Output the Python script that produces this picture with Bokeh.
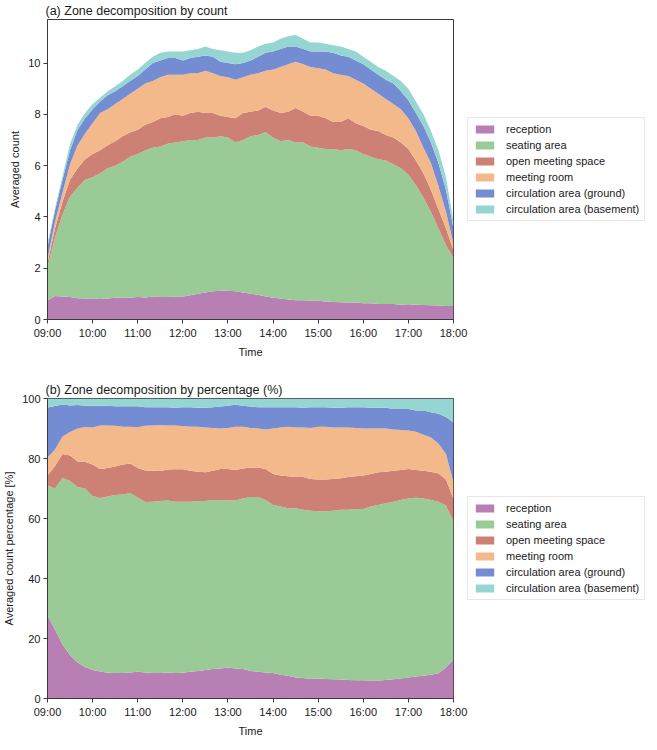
from bokeh.plotting import figure
from bokeh.models import ColumnDataSource, Legend, LegendItem, FixedTicker, Range1d
from bokeh.layouts import column
from bokeh.embed import file_html
from bokeh.resources import INLINE

# ---------------- data ----------------
TIMES = [f"{9 + m // 60:02d}:{m % 60:02d}" for m in range(0, 541, 10)]  # 09:00 .. 18:00

ZONES = ["reception", "seating area", "open meeting space", "meeting room",
         "circulation area (ground)", "circulation area (basement)"]
COLORS = ["#b87fb4", "#9acb96", "#cd8074", "#f4b98b", "#748cd2", "#96d6d2"]

TICK_HOURS = [9, 10, 11, 12, 13, 14, 15, 16, 17, 18]
TICK_LABELS = ["09:00", "10:00", "11:00", "12:00", "13:00", "14:00",
               "15:00", "16:00", "17:00", "18:00"]

# (a) averaged counts per zone
COUNT_RECEPTION = [0.75, 0.92, 0.90, 0.88, 0.83, 0.82, 0.82, 0.80, 0.82, 0.85, 0.85, 0.85, 0.88, 0.86, 0.90, 0.88, 0.88, 0.90, 0.90,
                   0.95, 1.00, 1.05, 1.10, 1.12, 1.12, 1.10, 1.05, 1.00, 0.97, 0.90, 0.85, 0.82, 0.78, 0.75, 0.75, 0.73, 0.73,
                   0.70, 0.68, 0.67, 0.66, 0.66, 0.63, 0.63, 0.60, 0.60, 0.60, 0.58, 0.59, 0.58, 0.57, 0.56, 0.55, 0.53, 0.53]
COUNT_SEATING = [1.30, 2.28, 3.20, 3.92, 4.32, 4.63, 4.73, 4.90, 5.08, 5.15, 5.30, 5.50, 5.57, 5.74, 5.80, 5.87, 5.97, 6.00, 6.05,
                 6.05, 6.00, 6.05, 6.00, 6.03, 5.98, 5.80, 5.95, 6.15, 6.23, 6.40, 6.25, 6.13, 6.22, 6.15, 6.15, 6.02, 5.97,
                 5.95, 5.97, 5.93, 5.99, 5.94, 5.82, 5.72, 5.65, 5.60, 5.45, 5.32, 5.06, 4.67, 4.18, 3.64, 3.00, 2.37, 1.87]
COUNT_OPEN = [0.15, 0.35, 0.50, 0.65, 0.75, 0.80, 0.90, 0.90, 0.90, 0.95, 1.00, 0.95, 0.95, 1.00, 1.00, 1.10, 1.05, 1.10, 1.00,
              1.05, 1.10, 0.95, 0.95, 0.80, 0.80, 0.95, 1.05, 0.95, 0.95, 1.00, 1.05, 1.10, 1.10, 1.35, 1.20, 1.20, 1.25,
              1.20, 1.05, 1.10, 1.20, 1.05, 1.10, 1.05, 1.10, 1.00, 1.05, 1.00, 1.00, 0.95, 0.95, 0.85, 0.75, 0.65, 0.30]
COUNT_MEETING = [0.15, 0.25, 0.35, 0.60, 0.90, 1.00, 1.20, 1.45, 1.40, 1.45, 1.45, 1.50, 1.60, 1.60, 1.60, 1.60, 1.65, 1.55, 1.60,
                 1.55, 1.50, 1.65, 1.55, 1.55, 1.55, 1.50, 1.40, 1.45, 1.45, 1.40, 1.60, 1.80, 1.85, 1.80, 1.85, 1.90, 1.85,
                 1.90, 1.90, 1.85, 1.65, 1.70, 1.65, 1.60, 1.45, 1.40, 1.30, 1.30, 1.20, 1.15, 1.00, 1.05, 0.90, 0.65, 0.25]
COUNT_GROUND = [0.50, 0.45, 0.50, 0.55, 0.60, 0.60, 0.55, 0.45, 0.55, 0.50, 0.50, 0.50, 0.50, 0.55, 0.70, 0.65, 0.65, 0.65, 0.55,
                0.60, 0.65, 0.60, 0.65, 0.55, 0.55, 0.60, 0.55, 0.55, 0.65, 0.70, 0.70, 0.70, 0.70, 0.60, 0.60, 0.60, 0.65,
                0.70, 0.80, 0.75, 0.75, 0.75, 0.75, 0.75, 0.75, 0.75, 0.80, 0.70, 0.70, 0.70, 0.85, 0.80, 0.90, 0.85, 0.60]
COUNT_BASEMENT = [0.10, 0.10, 0.15, 0.25, 0.20, 0.20, 0.20, 0.15, 0.15, 0.20, 0.20, 0.25, 0.25, 0.25, 0.25, 0.30, 0.25, 0.25, 0.35,
                  0.30, 0.30, 0.35, 0.30, 0.45, 0.45, 0.45, 0.40, 0.40, 0.40, 0.35, 0.35, 0.40, 0.40, 0.45, 0.40, 0.35, 0.35,
                  0.30, 0.30, 0.35, 0.30, 0.35, 0.30, 0.30, 0.30, 0.35, 0.30, 0.40, 0.45, 0.45, 0.45, 0.45, 0.50, 0.50, 0.25]

# (b) percentage per zone
PCT_RECEPTION = [27.7, 23.0, 18.0, 14.5, 12.0, 10.5, 9.5, 9.0, 8.6, 8.5, 8.5, 8.7, 8.9, 8.7, 8.5, 8.5, 8.7, 8.5, 8.6,
                 8.9, 9.2, 9.5, 9.8, 10.0, 10.3, 10.0, 9.8, 9.2, 8.9, 8.7, 8.5, 7.9, 7.6, 7.0, 6.8, 6.5, 6.7,
                 6.5, 6.4, 6.3, 6.2, 6.1, 6.1, 6.0, 6.0, 6.2, 6.4, 6.7, 7.0, 7.3, 7.6, 7.9, 8.4, 10.3, 13.0]
PCT_SEATING = [43.3, 47.0, 55.5, 58.0, 58.5, 59.5, 58.0, 57.8, 58.7, 59.3, 59.5, 59.8, 58.1, 56.8, 57.1, 57.3, 57.3, 57.1, 57.0,
               56.7, 56.6, 56.3, 56.4, 56.2, 55.7, 56.0, 56.9, 58.0, 58.3, 57.5, 56.0, 56.1, 55.8, 56.4, 56.1, 56.1, 55.7,
               55.9, 56.2, 56.6, 56.7, 57.1, 57.1, 58.0, 58.5, 58.9, 59.2, 59.5, 59.7, 59.6, 59.1, 58.3, 57.2, 54.0, 46.0]
PCT_OPEN = [3.3, 7.5, 8.0, 8.5, 8.5, 8.8, 10.5, 9.7, 9.5, 9.5, 10.0, 9.8, 9.8, 10.5, 10.3, 10.0, 10.3, 10.8, 10.8,
            10.3, 9.8, 9.6, 9.7, 10.3, 10.5, 10.2, 10.0, 9.8, 9.8, 10.3, 10.3, 10.3, 10.7, 10.4, 10.9, 10.6, 10.6,
            10.6, 10.6, 10.5, 10.9, 10.9, 11.1, 10.8, 10.9, 10.5, 10.3, 10.0, 9.8, 9.3, 9.2, 9.4, 9.4, 8.7, 7.5]
PCT_MEETING = [6.0, 5.5, 5.8, 7.8, 11.0, 11.7, 12.3, 14.5, 14.2, 13.6, 12.6, 12.3, 13.6, 14.9, 15.1, 15.3, 14.7, 14.6, 14.4,
               14.7, 15.0, 14.9, 14.3, 13.5, 13.7, 14.4, 13.9, 13.2, 13.0, 13.2, 15.2, 16.0, 16.5, 16.5, 16.5, 17.0, 17.6,
               17.6, 17.1, 16.9, 16.5, 16.1, 15.7, 15.2, 14.6, 14.4, 13.8, 13.3, 12.8, 12.7, 12.0, 11.4, 10.0, 8.5, 5.5]
PCT_GROUND = [16.7, 14.5, 10.7, 8.9, 7.8, 7.1, 7.3, 6.6, 6.6, 6.5, 6.8, 6.8, 7.0, 6.2, 6.1, 6.0, 6.1, 5.9, 6.3,
              6.5, 6.3, 6.6, 6.9, 7.3, 7.4, 7.3, 7.0, 7.1, 7.1, 7.4, 7.1, 6.8, 6.5, 6.8, 6.6, 6.9, 6.5,
              6.5, 6.6, 6.6, 6.8, 6.9, 7.1, 6.9, 6.9, 6.9, 6.8, 7.0, 7.2, 7.1, 8.1, 8.4, 9.9, 12.3, 20.0]
PCT_BASEMENT = [3.0, 2.5, 2.0, 2.3, 2.2, 2.4, 2.4, 2.4, 2.4, 2.6, 2.6, 2.6, 2.6, 2.9, 2.9, 2.9, 2.9, 3.1, 2.9,
                2.9, 3.1, 3.1, 2.9, 2.7, 2.4, 2.1, 2.4, 2.7, 2.9, 2.9, 2.9, 2.9, 2.9, 2.9, 3.1, 2.9, 2.9,
                2.9, 3.1, 3.1, 2.9, 2.9, 2.9, 3.1, 3.1, 3.1, 3.5, 3.5, 3.5, 4.0, 4.0, 4.6, 5.1, 6.2, 8.0]

# ---------------- helpers ----------------
FONT = "Liberation Sans"
TXT = "#1a1a1a"
HOURS = [int(t[:2]) + int(t[3:]) / 60 for t in TIMES]
KEYS = ["z0", "z1", "z2", "z3", "z4", "z5"]
FRAME_W = 406
FRAME_H = 300


def make_fig(title, ylabel, series, y_end, y_ticks, border_bottom):
    data = {"x": HOURS}
    for k, s in zip(KEYS, series):
        data[k] = s
    src = ColumnDataSource(data)

    p = figure(frame_width=FRAME_W, frame_height=FRAME_H, output_backend="svg",
               toolbar_location=None, x_range=Range1d(9, 18), y_range=Range1d(0, y_end),
               min_border_left=0, min_border_right=200, min_border_top=0,
               min_border_bottom=border_bottom)
    renderers = p.varea_stack(stackers=KEYS, x="x", color=COLORS, source=src)

    p.title.text = title
    p.title.text_font = FONT
    p.title.text_font_size = "12.5px"
    p.title.text_font_style = "normal"
    p.title.text_color = TXT
    p.title.align = "left"
    p.title.standoff = 3
    p.title.offset = -2

    p.xgrid.visible = False
    p.ygrid.visible = False
    p.outline_line_color = "#3a3a3a"
    p.outline_line_width = 1
    p.background_fill_color = "white"
    p.border_fill_color = "white"

    for ax in (p.xaxis[0], p.yaxis[0]):
        ax.axis_line_color = "#3a3a3a"
        ax.major_tick_line_color = "#3a3a3a"
        ax.major_tick_out = 4
        ax.major_tick_in = 0
        ax.minor_tick_line_color = None
        ax.major_label_text_font = FONT
        ax.major_label_text_font_size = "11px"
        ax.major_label_text_color = TXT
        ax.axis_label_text_font = FONT
        ax.axis_label_text_font_size = "11px"
        ax.axis_label_text_font_style = "normal"
        ax.axis_label_text_color = TXT
        ax.major_label_standoff = 3
        ax.axis_label_standoff = 4

    p.xaxis[0].ticker = FixedTicker(ticks=TICK_HOURS)
    p.xaxis[0].major_label_overrides = {h: lab for h, lab in zip(TICK_HOURS, TICK_LABELS)}
    p.xaxis[0].axis_label = "Time"
    p.yaxis[0].ticker = FixedTicker(ticks=y_ticks)
    p.yaxis[0].axis_label = ylabel

    items = [LegendItem(label=z, renderers=[r]) for z, r in zip(ZONES, renderers)]
    leg = Legend(items=items, location="left")
    leg.label_text_font = FONT
    leg.label_text_font_size = "11px"
    leg.label_text_color = TXT
    leg.glyph_width = 23
    leg.glyph_height = 10
    leg.label_height = 12
    leg.label_standoff = 10
    leg.spacing = 4
    leg.padding = 5
    leg.margin = 14
    leg.border_line_color = "#d0d0d0"
    leg.border_line_width = 1
    leg.background_fill_color = "white"
    leg.background_fill_alpha = 1.0
    p.add_layout(leg, "right")
    return p


p1 = make_fig("(a) Zone decomposition by count", "Averaged count",
              [COUNT_RECEPTION, COUNT_SEATING, COUNT_OPEN, COUNT_MEETING, COUNT_GROUND, COUNT_BASEMENT],
              11.7, [0, 2, 4, 6, 8, 10], 60)
p2 = make_fig("(b) Zone decomposition by percentage (%)", "Averaged count percentage [%]",
              [PCT_RECEPTION, PCT_SEATING, PCT_OPEN, PCT_MEETING, PCT_GROUND, PCT_BASEMENT],
              100, [0, 20, 40, 60, 80, 100], 0)

page = column(p1, p2, spacing=0)
open("out.html", "w").write(file_html(page, INLINE))
